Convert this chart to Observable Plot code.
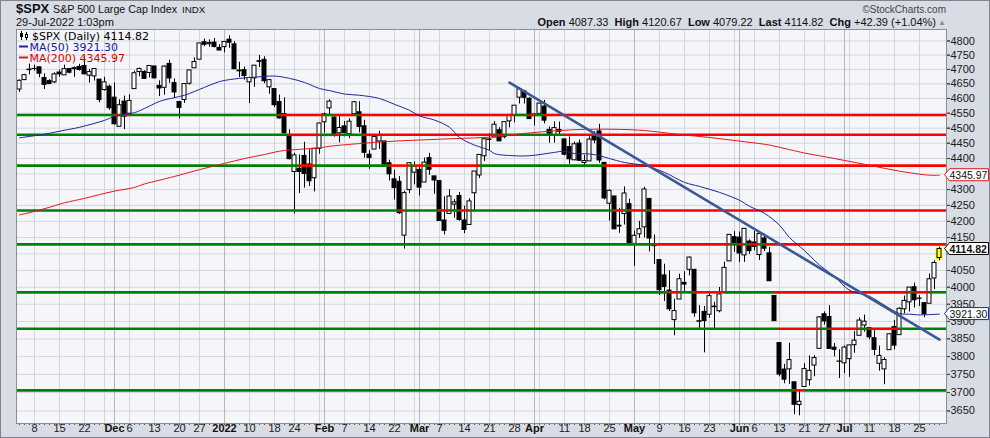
<!DOCTYPE html>
<html><head><meta charset="utf-8">
<script src="https://cdn.jsdelivr.net/npm/d3@7"></script>
<script src="https://cdn.jsdelivr.net/npm/@observablehq/plot@0.6"></script>
<style>
html,body{margin:0;padding:0;background:#fff;}
#wrap{position:relative;width:990px;height:438px;overflow:hidden;}
#border{position:absolute;left:0;top:0;width:990px;height:438px;box-sizing:border-box;border:1px solid #80858f;pointer-events:none;}
</style></head>
<body><div id="wrap"><div id="chart"></div><div id="border"></div></div>
<script>
// ---- trading days ----
const dates = [
"2021-11-03","2021-11-04","2021-11-05","2021-11-08","2021-11-09","2021-11-10","2021-11-11","2021-11-12","2021-11-15","2021-11-16","2021-11-17","2021-11-18","2021-11-19","2021-11-22","2021-11-23","2021-11-24","2021-11-26","2021-11-29","2021-11-30",
"2021-12-01","2021-12-02","2021-12-03","2021-12-06","2021-12-07","2021-12-08","2021-12-09","2021-12-10","2021-12-13","2021-12-14","2021-12-15","2021-12-16","2021-12-17","2021-12-20","2021-12-21","2021-12-22","2021-12-23","2021-12-27","2021-12-28","2021-12-29","2021-12-30","2021-12-31",
"2022-01-03","2022-01-04","2022-01-05","2022-01-06","2022-01-07","2022-01-10","2022-01-11","2022-01-12","2022-01-13","2022-01-14","2022-01-18","2022-01-19","2022-01-20","2022-01-21","2022-01-24","2022-01-25","2022-01-26","2022-01-27","2022-01-28","2022-01-31",
"2022-02-01","2022-02-02","2022-02-03","2022-02-04","2022-02-07","2022-02-08","2022-02-09","2022-02-10","2022-02-11","2022-02-14","2022-02-15","2022-02-16","2022-02-17","2022-02-18","2022-02-22","2022-02-23","2022-02-24","2022-02-25","2022-02-28",
"2022-03-01","2022-03-02","2022-03-03","2022-03-04","2022-03-07","2022-03-08","2022-03-09","2022-03-10","2022-03-11","2022-03-14","2022-03-15","2022-03-16","2022-03-17","2022-03-18","2022-03-21","2022-03-22","2022-03-23","2022-03-24","2022-03-25","2022-03-28","2022-03-29","2022-03-30","2022-03-31",
"2022-04-01","2022-04-04","2022-04-05","2022-04-06","2022-04-07","2022-04-08","2022-04-11","2022-04-12","2022-04-13","2022-04-14","2022-04-18","2022-04-19","2022-04-20","2022-04-21","2022-04-22","2022-04-25","2022-04-26","2022-04-27","2022-04-28","2022-04-29",
"2022-05-02","2022-05-03","2022-05-04","2022-05-05","2022-05-06","2022-05-09","2022-05-10","2022-05-11","2022-05-12","2022-05-13","2022-05-16","2022-05-17","2022-05-18","2022-05-19","2022-05-20","2022-05-23","2022-05-24","2022-05-25","2022-05-26","2022-05-27","2022-05-31",
"2022-06-01","2022-06-02","2022-06-03","2022-06-06","2022-06-07","2022-06-08","2022-06-09","2022-06-10","2022-06-13","2022-06-14","2022-06-15","2022-06-16","2022-06-17","2022-06-21","2022-06-22","2022-06-23","2022-06-24","2022-06-27","2022-06-28","2022-06-29","2022-06-30",
"2022-07-01","2022-07-05","2022-07-06","2022-07-07","2022-07-08","2022-07-11","2022-07-12","2022-07-13","2022-07-14","2022-07-15","2022-07-18","2022-07-19","2022-07-20","2022-07-21","2022-07-22","2022-07-25","2022-07-26","2022-07-27","2022-07-28","2022-07-29"];

const opens = [
4630.65,4662.93,4699.26,4701.48,4707.25,4670.26,4659.39,4655.24,4689.30,4679.42,4701.50,4700.72,4708.44,4712.00,4678.48,4675.78,4664.63,4628.75,4640.25,
4602.82,4504.73,4589.49,4548.37,4631.97,4690.86,4691.00,4687.64,4710.30,4642.99,4636.46,4719.13,4652.50,4587.90,4594.96,4650.36,4703.96,4733.99,4795.49,4788.64,4794.23,4775.21,
4778.14,4804.51,4787.99,4693.39,4697.66,4655.34,4669.14,4728.59,4733.56,4637.99,4632.24,4588.03,4547.35,4471.38,4356.32,4366.64,4408.43,4380.58,4336.19,4431.79,
4519.57,4566.39,4535.41,4482.79,4505.75,4480.02,4547.00,4553.24,4506.27,4412.61,4429.28,4455.75,4456.06,4384.57,4332.74,4324.93,4155.77,4298.38,4354.17,
4363.14,4322.56,4401.31,4342.12,4327.01,4202.66,4223.10,4252.55,4279.50,4202.75,4188.82,4288.14,4345.11,4407.34,4462.40,4469.10,4493.10,4469.98,4522.66,4541.09,4602.86,4624.20,4599.02,
4540.32,4547.97,4572.45,4494.17,4474.65,4494.15,4462.64,4437.59,4394.30,4449.12,4385.63,4390.63,4472.26,4489.17,4385.83,4255.34,4278.14,4186.52,4222.58,4253.75,
4130.61,4159.78,4181.18,4270.43,4128.17,4081.27,4035.18,3990.08,3903.95,3963.90,4013.02,4052.00,4051.98,3899.00,3927.76,3919.42,3942.94,3929.59,3984.60,4077.43,4151.09,
4149.78,4095.41,4137.57,4134.72,4096.47,4147.12,4101.65,3974.39,3838.15,3763.52,3764.05,3728.18,3665.90,3715.31,3733.89,3774.71,3821.75,3920.76,3913.00,3825.09,3785.99,
3781.00,3792.61,3831.98,3858.85,3888.26,3880.94,3851.95,3779.67,3763.99,3818.00,3883.79,3860.73,3935.32,3955.47,4000.11,3965.72,3953.22,3951.43,4026.13,4087.33];

const highs = [
4663.46,4683.00,4718.50,4714.92,4708.53,4684.85,4664.55,4688.47,4697.42,4714.95,4701.50,4708.80,4717.75,4743.83,4699.39,4702.87,4664.63,4672.95,4646.02,
4652.94,4595.46,4608.03,4612.60,4694.04,4705.06,4695.26,4713.57,4710.30,4660.47,4712.60,4731.99,4666.70,4587.90,4651.14,4697.67,4740.74,4791.49,4807.02,4804.06,4808.93,4786.83,
4796.64,4818.62,4797.70,4725.01,4707.95,4673.02,4714.13,4748.83,4744.13,4665.13,4632.24,4611.55,4602.11,4494.52,4417.35,4411.01,4453.23,4428.74,4432.72,4516.89,
4550.49,4595.31,4542.88,4539.66,4521.86,4531.32,4590.03,4588.92,4526.33,4426.22,4472.77,4489.55,4456.06,4394.60,4362.12,4341.51,4294.73,4385.34,4388.84,
4378.45,4401.48,4416.78,4342.12,4327.01,4276.94,4299.40,4268.28,4291.01,4247.57,4271.05,4357.86,4412.67,4465.40,4481.75,4522.00,4501.07,4520.58,4546.03,4575.65,4637.30,4627.77,4603.07,
4548.70,4583.50,4593.45,4503.94,4521.16,4520.41,4464.35,4471.00,4453.92,4460.46,4410.31,4471.03,4488.29,4512.94,4385.83,4299.02,4278.14,4240.71,4308.45,4269.68,
4169.81,4200.10,4307.66,4270.43,4157.69,4081.27,4068.82,4049.09,3964.80,4038.88,4046.46,4090.72,4051.98,3945.96,3943.42,3981.88,3955.68,3999.33,4075.14,4158.49,4168.34,
4166.54,4177.51,4142.67,4168.78,4164.86,4160.14,4119.10,3974.39,3838.15,3778.18,3837.56,3728.18,3707.71,3779.65,3801.79,3802.58,3913.65,3927.72,3945.86,3836.50,3818.99,
3829.82,3832.19,3870.91,3910.63,3918.50,3880.94,3873.41,3829.44,3796.41,3863.62,3902.44,3939.81,3974.13,3999.29,4012.44,3975.30,3953.22,4039.56,4078.95,4120.67];

const lows = [
4621.19,4662.59,4681.32,4694.39,4670.87,4630.86,4648.31,4650.77,4672.86,4679.42,4684.41,4672.78,4694.22,4682.17,4652.66,4659.89,4585.43,4625.26,4560.00,
4510.27,4504.73,4495.12,4540.51,4631.97,4674.52,4665.98,4670.24,4667.60,4606.52,4611.22,4651.89,4600.22,4531.10,4583.16,4645.53,4703.96,4733.99,4780.04,4778.08,4775.33,4765.75,
4758.17,4774.27,4699.44,4671.26,4662.74,4582.24,4638.27,4706.71,4650.29,4614.75,4568.70,4530.20,4477.95,4395.34,4222.62,4287.11,4304.80,4309.50,4292.46,4414.02,
4483.53,4544.32,4470.39,4451.50,4471.47,4465.40,4547.00,4484.31,4401.41,4364.84,4429.28,4429.68,4373.81,4327.22,4267.11,4221.51,4114.65,4286.83,4315.12,
4279.54,4322.56,4345.56,4284.98,4199.85,4157.87,4223.10,4209.80,4200.49,4161.72,4187.90,4229.34,4335.65,4390.57,4424.30,4469.10,4455.81,4465.17,4501.07,4517.69,4581.18,4581.32,4530.41,
4507.57,4539.21,4514.17,4450.04,4450.30,4474.60,4408.38,4381.34,4392.70,4390.77,4370.30,4390.63,4448.76,4384.47,4267.62,4200.82,4175.04,4162.90,4188.63,4124.28,
4062.51,4147.08,4148.91,4106.01,4067.91,3975.48,3958.17,3928.82,3858.87,3963.90,3983.99,4033.93,3911.91,3876.58,3810.32,3909.04,3875.13,3925.03,3984.60,4077.43,4104.88,
4073.85,4074.37,4098.67,4109.18,4080.19,4107.20,4017.17,3900.16,3743.52,3724.19,3722.30,3639.77,3636.87,3715.31,3717.69,3743.52,3821.75,3889.66,3820.14,3799.02,3738.67,
3752.10,3742.06,3809.37,3858.85,3869.34,3847.22,3802.36,3759.07,3721.56,3817.18,3818.63,3860.73,3922.03,3927.64,3938.85,3943.46,3910.74,3951.43,3992.97,4079.22];

const closes = [
4660.57,4680.06,4697.53,4701.70,4685.25,4646.71,4649.27,4682.85,4682.80,4700.90,4688.67,4704.54,4697.96,4682.94,4690.70,4701.46,4594.62,4655.27,4567.00,
4513.04,4577.10,4538.43,4591.67,4686.75,4701.21,4667.45,4712.02,4668.97,4634.09,4709.85,4668.67,4620.64,4568.02,4649.23,4696.56,4725.79,4791.19,4786.35,4793.06,4778.73,4766.18,
4796.56,4793.54,4700.58,4696.05,4677.03,4670.29,4713.07,4726.35,4659.03,4662.85,4577.11,4532.76,4482.73,4397.94,4410.13,4356.45,4349.93,4326.51,4431.85,4515.55,
4546.54,4589.38,4477.44,4500.53,4483.87,4521.54,4587.18,4504.08,4418.64,4401.67,4471.07,4475.01,4380.26,4348.87,4304.76,4225.50,4288.70,4384.65,4373.94,
4306.26,4386.54,4363.49,4328.87,4201.09,4170.70,4277.88,4259.52,4204.31,4173.11,4262.45,4357.86,4411.67,4463.12,4461.18,4511.61,4456.24,4520.16,4543.06,4575.52,4631.60,4602.45,4530.41,
4545.86,4582.64,4525.12,4481.15,4500.21,4488.28,4412.53,4397.45,4446.59,4392.59,4391.69,4462.21,4459.45,4393.66,4271.78,4296.12,4175.20,4183.96,4287.50,4131.93,
4155.38,4175.48,4300.17,4146.87,4123.34,3991.24,4001.05,3935.18,3930.08,4023.89,4008.01,4088.85,3923.68,3900.79,3901.36,3973.75,3941.48,3978.73,4057.84,4158.24,4132.15,
4101.23,4176.82,4108.54,4121.43,4160.68,4115.77,4017.82,3900.86,3749.63,3735.48,3789.99,3666.77,3674.84,3764.79,3759.89,3795.73,3911.74,3900.11,3821.55,3818.83,3785.38,
3825.33,3831.39,3845.08,3902.62,3899.38,3854.43,3818.80,3801.78,3790.38,3863.16,3830.85,3936.69,3959.90,3998.95,3961.63,3966.84,3921.05,4023.61,4072.43,4114.82];

// ---- moving averages ----
const ma50Dates = ["2021-11-03","2021-11-10","2021-11-16","2021-11-19","2021-11-29","2021-12-01","2021-12-07","2021-12-09","2021-12-14","2021-12-17","2021-12-21","2021-12-28","2021-12-31","2022-01-06","2022-01-11","2022-01-18","2022-01-21","2022-01-26","2022-01-31","2022-02-02","2022-02-07","2022-02-10","2022-02-16","2022-02-22","2022-02-25","2022-03-01","2022-03-04","2022-03-09","2022-03-11","2022-03-16","2022-03-21","2022-03-22","2022-03-28","2022-03-31","2022-04-07","2022-04-11","2022-04-13","2022-04-19","2022-04-21","2022-04-25","2022-04-28","2022-05-04","2022-05-10","2022-05-16","2022-05-19","2022-05-25","2022-06-01","2022-06-03","2022-06-08","2022-06-13","2022-06-15","2022-06-21","2022-06-24","2022-06-29","2022-07-05","2022-07-11","2022-07-14","2022-07-19","2022-07-21","2022-07-25","2022-07-29"];
const ma50Values = [4468,4480,4493,4503,4526,4539,4552,4566,4590,4603,4611,4638,4658,4669,4673,4677,4669,4655,4634,4627,4615,4611,4600,4580,4560,4541,4527,4503,4469,4444,4427,4416,4409,4409,4420,4424,4416,4415,4409,4400,4387,4377,4355,4323,4310,4291,4266,4247,4225,4188,4150,4110,4066,4032,3991,3973,3947,3923,3921,3919,3921.30];
const ma200Dates = ["2021-11-03","2021-11-08","2021-11-11","2021-11-16","2021-11-22","2021-11-26","2021-12-01","2021-12-07","2021-12-09","2021-12-14","2021-12-17","2021-12-27","2022-01-03","2022-01-07","2022-01-13","2022-01-19","2022-01-25","2022-01-31","2022-02-02","2022-02-10","2022-02-22","2022-03-03","2022-03-11","2022-03-21","2022-03-29","2022-04-07","2022-04-18","2022-04-27","2022-05-04","2022-05-13","2022-05-23","2022-06-02","2022-06-09","2022-06-15","2022-06-21","2022-06-29","2022-07-11","2022-07-19","2022-07-27","2022-07-29"];
const ma200Values = [4220,4231,4244,4258,4272,4284,4295,4307,4318,4330,4342,4364,4384,4400,4413,4424,4430,4435,4440,4449,4457,4462,4466,4470,4481,4491,4496,4496,4492,4479,4469,4455,4444,4429,4418,4400,4378,4359,4346,4345.97];

// ---- annotations ----
const levels = [4544, 4478, 4377, 4234, 4129, 3985, 3879, 3706];
const trendDates = ["2022-03-25", "2022-07-29"];
const trendValues = [4654, 3848];

// ---- axis ticks ----
const yTicks = [3650,3700,3750,3800,3850,3900,3950,4000,4050,4100,4150,4200,4250,4300,4350,4400,4450,4500,4550,4600,4650,4700,4750,4800];
const tickDates = ["2021-11-08","2021-11-15","2021-11-22","2021-12-01","2021-12-06","2021-12-13","2021-12-20","2021-12-27","2022-01-03","2022-01-10","2022-01-18","2022-01-24","2022-02-01","2022-02-07","2022-02-14","2022-02-22","2022-03-01","2022-03-07","2022-03-14","2022-03-21","2022-03-28","2022-04-01","2022-04-11","2022-04-18","2022-04-25","2022-05-02","2022-05-09","2022-05-16","2022-05-23","2022-06-01","2022-06-06","2022-06-13","2022-06-21","2022-06-27","2022-07-01","2022-07-11","2022-07-18","2022-07-25"];
const tickLabels = ["8","15","22","Dec","6","13","20","27","2022","10","18","24","Feb","7","14","22","Mar","7","14","21","28","Apr","11","18","25","May","9","16","23","Jun","6","13","21","27","Jul","11","18","25"];

// ---- build ----
const kOf = new Map(dates.map((d, k) => [d, k]));
const bars = dates.map((d, k) => ({k, o: opens[k], h: highs[k], l: lows[k], c: closes[k]}));
const lastK = bars.length - 1;
const xMin = -0.6, xMax = lastK + 1.4;
const yDomain = [3616.2, 4841];
const parse = d3.utcParse("%Y-%m-%d");
const weekStarts = [], monthStarts = [];
dates.forEach((d, k) => {
  if (k === 0) return;
  const t = parse(d), p = parse(dates[k - 1]);
  if (+d3.utcMonday.floor(t) !== +d3.utcMonday.floor(p)) weekStarts.push(k);
  if (t.getUTCMonth() !== p.getUTCMonth()) monthStarts.push(k);
});
const segs = [];
for (const L of levels) {
  let a = xMin, up = closes[0] > L;
  for (let k = 1; k < closes.length; k++) {
    const u = closes[k] > L;
    if (u !== up) { segs.push({L, a, b: k, up}); a = k; up = u; }
  }
  segs.push({L, a, b: xMax, up});
}
const ma50 = ma50Dates.map((d, j) => ({k: kOf.get(d), v: ma50Values[j]}));
const ma200 = ma200Dates.map((d, j) => ({k: kOf.get(d), v: ma200Values[j]}));
const trend = trendDates.map((d, j) => ({k: kOf.get(d), v: trendValues[j]}));
const xt = tickDates.map((d, j) => ({k: kOf.get(d), label: tickLabels[j], bold: isNaN(+tickLabels[j]) || tickLabels[j].length === 4}));
const normal = bars.filter(b => b.k !== lastK);
const lastBar = bars[lastK];
const tagValues = [ma200Values[ma200Values.length - 1], ma50Values[ma50Values.length - 1], closes[lastK]];
// right-axis labels fully hidden under the value tags are left out (as in the reference)
const yLog = d3.scaleLog(yDomain, [423, 29]);
const yShown = yTicks.filter(t => tagValues.every(v => Math.abs(yLog(t) - yLog(v)) > 7));

const plot = Plot.plot({
  width: 990, height: 438,
  marginLeft: 16, marginRight: 44, marginTop: 29, marginBottom: 15,
  style: {background: "#d8dce4", fontFamily: "'Liberation Sans', Arial, sans-serif", fontSize: "11px", color: "#1a1a1a"},
  x: {domain: [xMin, xMax]},
  y: {type: "log", domain: yDomain},
  marks: [
    Plot.frame({fill: "#f5f6fa", stroke: null}),
    Plot.ruleY(yTicks, {stroke: "#d5d8df"}),
    Plot.ruleX(weekStarts, {stroke: "#d3d6dd"}),
    Plot.ruleX(monthStarts, {stroke: "#b3b7c0"}),
    Plot.rect([lastBar], {x1: d => d.k - 0.75, x2: d => d.k + 0.75, y1: "l", y2: "h", fill: "#ffff3c"}),
    Plot.ruleX(bars, {x: "k", y1: "l", y2: "h", stroke: "#000"}),
    Plot.rect(normal.filter(b => b.c >= b.o), {x1: d => d.k - 0.4, x2: d => d.k + 0.4, y1: "o", y2: "c", fill: "#fff", stroke: "#000"}),
    Plot.rect(normal.filter(b => b.c < b.o), {x1: d => d.k - 0.4, x2: d => d.k + 0.4, y1: "o", y2: "c", fill: "#000", stroke: "#000"}),
    Plot.rect([lastBar], {x1: d => d.k - 0.4, x2: d => d.k + 0.4, y1: "o", y2: "c", fill: "#ffff3c", stroke: "#000"}),
    Plot.ruleY(segs.filter(s => s.up), {y: "L", x1: "a", x2: "b", stroke: "#008000", strokeWidth: 2.6}),
    Plot.ruleY(segs.filter(s => !s.up), {y: "L", x1: "a", x2: "b", stroke: "#ff0000", strokeWidth: 2.6}),
    Plot.line(ma200, {x: "k", y: "v", stroke: "#e8141e", strokeWidth: 1, curve: "catmull-rom"}),
    Plot.line(ma50, {x: "k", y: "v", stroke: "#23239c", strokeWidth: 1, curve: "catmull-rom"}),
    Plot.line(trend, {x: "k", y: "v", stroke: "#3b5a95", strokeWidth: 2.6}),
    Plot.axisX({ticks: bars.map(b => b.k), tickSize: 2, tickFormat: () => "", label: null, stroke: "#555"}),
    Plot.text(xt.filter(t => !t.bold), {x: "k", text: "label", frameAnchor: "bottom", dy: 8, fontSize: 11, fill: "#1a1a1a"}),
    Plot.text(xt.filter(t => t.bold), {x: "k", text: "label", frameAnchor: "bottom", dy: 8, fontSize: 11, fontWeight: "bold", fill: "#111"}),
    Plot.axisY({anchor: "right", ticks: yTicks, tickSize: 3, tickFormat: () => "", label: null, stroke: "#444"}),
    Plot.axisY({anchor: "right", ticks: yShown, tickSize: 3, tickPadding: 1, tickFormat: d => String(d), label: null, fontSize: 11, fill: "#1a1a1a", stroke: "#444"}),
    Plot.frame({stroke: "#8a8e97"})
  ]
});
document.getElementById("chart").appendChild(plot);

// ---- decorations drawn with the plot's scales ----
const svg = d3.select(plot);
const ys = plot.scale("y");
const F = "'Liberation Sans', Arial, sans-serif";
const V = "'DejaVu Sans', Verdana, sans-serif";
function txt(g, x, y, s, opts = {}) {
  return g.append("text").attr("x", x).attr("y", y).attr("text-anchor", opts.anchor || "start")
    .attr("font-family", opts.font || F).attr("font-size", opts.size || 11)
    .attr("font-weight", opts.bold ? "bold" : "normal").attr("fill", opts.fill || "#111").text(s);
}
function tag(v, color, bold) {
  const y = ys.apply(v);
  svg.append("path")
    .attr("d", `M944.5,${y} L949.5,${y - 6} L988.5,${y - 6} L988.5,${y + 6} L949.5,${y + 6} Z`)
    .attr("fill", "#fff").attr("stroke", color).attr("stroke-width", 1);
  txt(svg, 949.5, y + 4, v.toFixed(2), {bold, size: 10.5, fill: "#111"});
}
tag(tagValues[0], "#e8141e", false);
tag(tagValues[1], "#23239c", false);
tag(tagValues[2], "#000", true);

// header
const hdr = svg.append("g");
txt(hdr, 16, 13, "$SPX", {size: 13, bold: true});
txt(hdr, 53, 13, "S&P 500 Large Cap Index", {size: 10.7});
txt(hdr, 182, 13, "INDX", {size: 9.8});
txt(hdr, 16, 26, "29-Jul-2022 1:03pm", {size: 11});
txt(hdr, 946, 13, "\u00A9StockCharts.com", {size: 10, fill: "#444", anchor: "end"});
const ohlc = txt(hdr, 936, 26, "", {size: 11, anchor: "end"});
[["Open", " 4087.33  "], ["High", " 4120.67  "], ["Low", " 4079.22  "], ["Last", " 4114.82  "], ["Chg", " +42.39 (+1.04%)"]].forEach(([a, b]) => {
  ohlc.append("tspan").attr("font-weight", "bold").text(a);
  ohlc.append("tspan").style("white-space", "pre").text(b);
});
txt(hdr, 938, 25, "\u25B2", {size: 8, fill: "#8a8e97"});

// legend
const lg = svg.append("g");
lg.append("line").attr("x1", 21.5).attr("x2", 21.5).attr("y1", 31).attr("y2", 40).attr("stroke", "#000");
lg.append("rect").attr("x", 20).attr("y", 33).attr("width", 3).attr("height", 4).attr("fill", "#000");
lg.append("line").attr("x1", 26.5).attr("x2", 26.5).attr("y1", 32).attr("y2", 40).attr("stroke", "#000");
lg.append("rect").attr("x", 25.5).attr("y", 34.5).attr("width", 2).attr("height", 3).attr("fill", "#fff").attr("stroke", "#000");
txt(lg, 32, 40, "$SPX (Daily) " + closes[lastK].toFixed(2), {font: V, fill: "#000"});
lg.append("line").attr("x1", 19).attr("x2", 28).attr("y1", 46.5).attr("y2", 46.5).attr("stroke", "#23239c").attr("stroke-width", 2);
txt(lg, 29.5, 50.5, "MA(50) " + ma50Values[ma50Values.length - 1].toFixed(2), {font: V, fill: "#1a1a9a"});
lg.append("line").attr("x1", 19).attr("x2", 28).attr("y1", 57.5).attr("y2", 57.5).attr("stroke", "#e8141e").attr("stroke-width", 2);
txt(lg, 29.5, 61.5, "MA(200) " + ma200Values[ma200Values.length - 1].toFixed(2), {font: V, fill: "#e00000"});
</script></body></html>
